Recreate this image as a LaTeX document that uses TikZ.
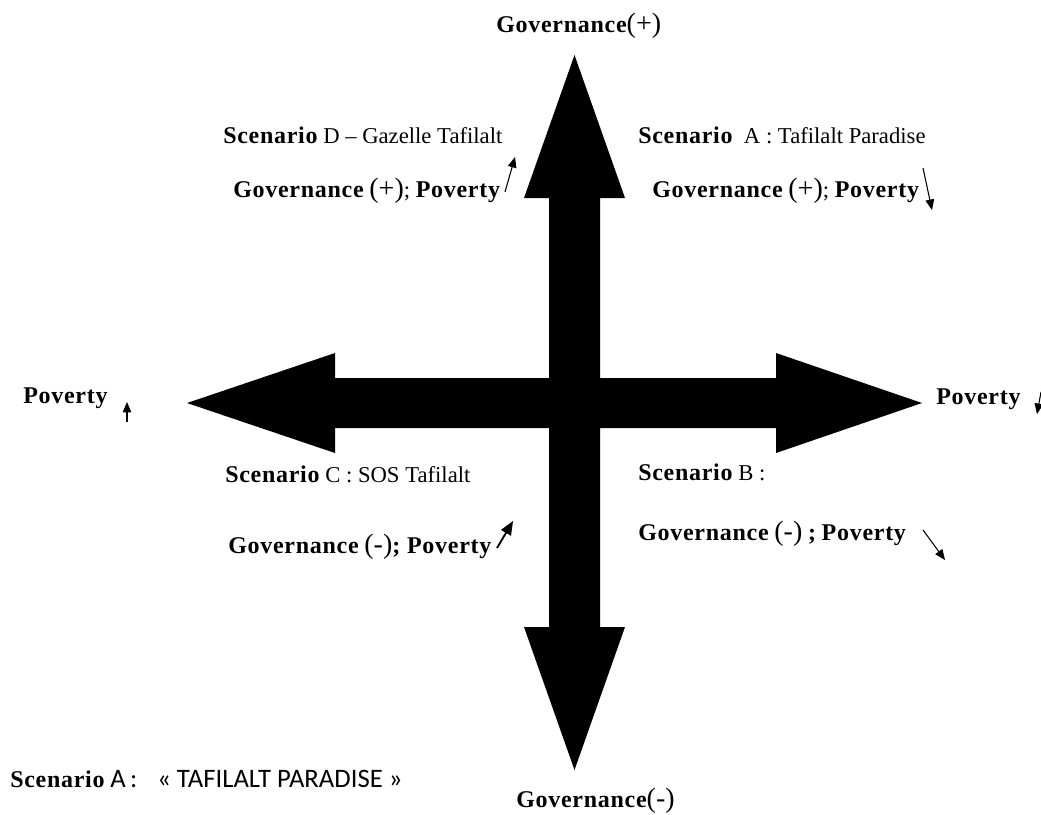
\documentclass[tikz,border=0pt]{standalone}
\usepackage{fontspec}
\setmainfont{Liberation Serif}
\setsansfont{Carlito}
\newfontfamily\wideserif[LetterSpace=3]{Liberation Serif}
\usetikzlibrary{arrows}

\newcommand{\bw}[1]{{\wideserif\bfseries\fontsize{18}{20}\selectfont #1}}
\newcommand{\paren}[1]{{\fontsize{21}{22}\selectfont #1}}

\begin{document}
\begin{tikzpicture}[x=0.75pt,y=-0.75pt,
  lbl/.style={anchor=base west,inner sep=0pt,font=\fontsize{17}{20}\selectfont},
  trend/.style={->,>=triangle 45,line width=0.8pt}]
\useasboundingbox (0,0) rectangle (1041,814);
\fill[black] (574.5,55) -- (625,198) -- (600,198) -- (600,378) -- (776,378) -- (776,353)
  -- (922,403) -- (776,453) -- (776,428) -- (600,428) -- (600,627) -- (625,627)
  -- (574.5,770) -- (524,627) -- (549,627) -- (549,428) -- (335,428) -- (335,453)
  -- (187,403) -- (335,353) -- (335,378) -- (549,378) -- (549,198) -- (524,198) -- cycle;
\node[lbl] (govtop) at (496,32) {\bw{Governance}\paren{(+)}};
\node[lbl] (govbot) at (516,807) {\bw{Governance}\paren{(-)}};
\node[lbl] (povl) at (23,403) {\bw{Poverty}};
\node[lbl] (povr) at (936,404) {\bw{Poverty}};
\node[lbl] (scend) at (223,143) {\bw{Scenario}\ D -- Gazelle Tafilalt};
\node[lbl] (govd) at (233,197) {\bw{Governance} \paren{(+)}; \bw{Poverty}};
\node[lbl] (scena) at (638,143) {\bw{Scenario}\ \ A : Tafilalt Paradise};
\node[lbl] (gova) at (652,197) {\bw{Governance} \paren{(+)}; \bw{Poverty}};
\node[lbl] (scenc) at (225,482) {\bw{Scenario}\ C : SOS Tafilalt};
\node[lbl] (govc) at (228,553) {\bw{Governance} \paren{(-)}\bw{; Poverty}};
\node[lbl] (scenb) at (638,480) {\bw{Scenario}\ B :};
\node[lbl] (govb) at (638,540) {\bw{Governance} \paren{(-)} \bw{;} \bw{Poverty}};
\node[lbl] (scenx) at (10,787) {\bw{Scenario} {\sffamily\fontsize{20}{22}\selectfont A\,:\hspace{15pt}« TAFILALT PARADISE »}};
\coordinate (d0) at (505,192);  \coordinate (d1) at (515,157);
\coordinate (a0) at (923,168);  \coordinate (a1) at (932,210);
\coordinate (l0) at (127,422);  \coordinate (l1) at (127,402);
\coordinate (r0) at (1041,392); \coordinate (r1) at (1037,414);
\coordinate (c0) at (497,548);  \coordinate (c1) at (513,521);
\coordinate (b0) at (923,530);  \coordinate (b1) at (945,560);
\draw[trend] (d0) -- (d1);
\draw[trend] (a0) -- (a1);
\draw[trend] (l0) -- (l1);
\draw[trend] (r0) -- (r1);
\draw[trend,line width=1.4pt] (c0) -- (c1);
\draw[trend] (b0) -- (b1);
\end{tikzpicture}
\end{document}
